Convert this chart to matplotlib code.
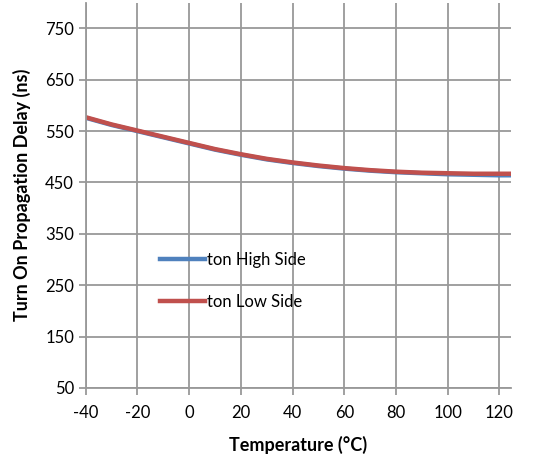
import matplotlib.pyplot as plt

temp = [-40, -30, -20, -10, 0, 10, 20, 30, 40, 50, 60, 70, 80, 90, 100, 110, 120, 125]
ton_high = [576, 562, 550, 538, 526, 514, 504, 495, 488, 482, 477, 473, 470, 468, 466, 465, 464, 464]
ton_low = [577, 563, 551, 539, 527, 515, 505, 496, 489, 483, 478, 474, 471, 469, 468, 467, 467, 467]

xticks = [-40, -20, 0, 20, 40, 60, 80, 100, 120]
yticks = [50, 150, 250, 350, 450, 550, 650, 750]

plt.rcParams['font.family'] = ['Lato', 'DejaVu Sans']
plt.rcParams['axes.unicode_minus'] = False

fig = plt.figure(figsize=(5.43, 4.59), dpi=100)
ax = fig.add_axes([0.158, 0.155, 0.783, 0.839])

ax.plot(temp, ton_high, color='#4F81BD', linewidth=3.2, label='ton High Side')
ax.plot(temp, ton_low, color='#C0504D', linewidth=3.2, label='ton Low Side')

ax.set_xlim(-40, 124.5)
ax.set_ylim(50, 800)
ax.set_xticks(xticks)
ax.set_yticks(yticks)
ax.grid(True, color='#999999', linewidth=1.3)
ax.set_axisbelow(True)

for s in ['top', 'right']:
    ax.spines[s].set_visible(False)
for s in ['left', 'bottom']:
    ax.spines[s].set_color('#999999')
    ax.spines[s].set_linewidth(1.3)

ax.tick_params(axis='both', colors='#999999', length=5, width=1.3, labelsize=12, labelcolor='black')
ax.tick_params(axis='x', pad=7)

ax.set_xlabel('Temperature (°C)', fontsize=13, fontweight='bold', labelpad=11)
ax.set_ylabel('Turn On Propagation Delay (ns)', fontsize=13, fontweight='bold', labelpad=10)

leg = ax.legend(loc='center left', bbox_to_anchor=(0.14, 0.278), frameon=False, fontsize=12,
                handlelength=2.7, handletextpad=0.1, labelspacing=1.55)

fig.savefig('out.png', dpi=100)
